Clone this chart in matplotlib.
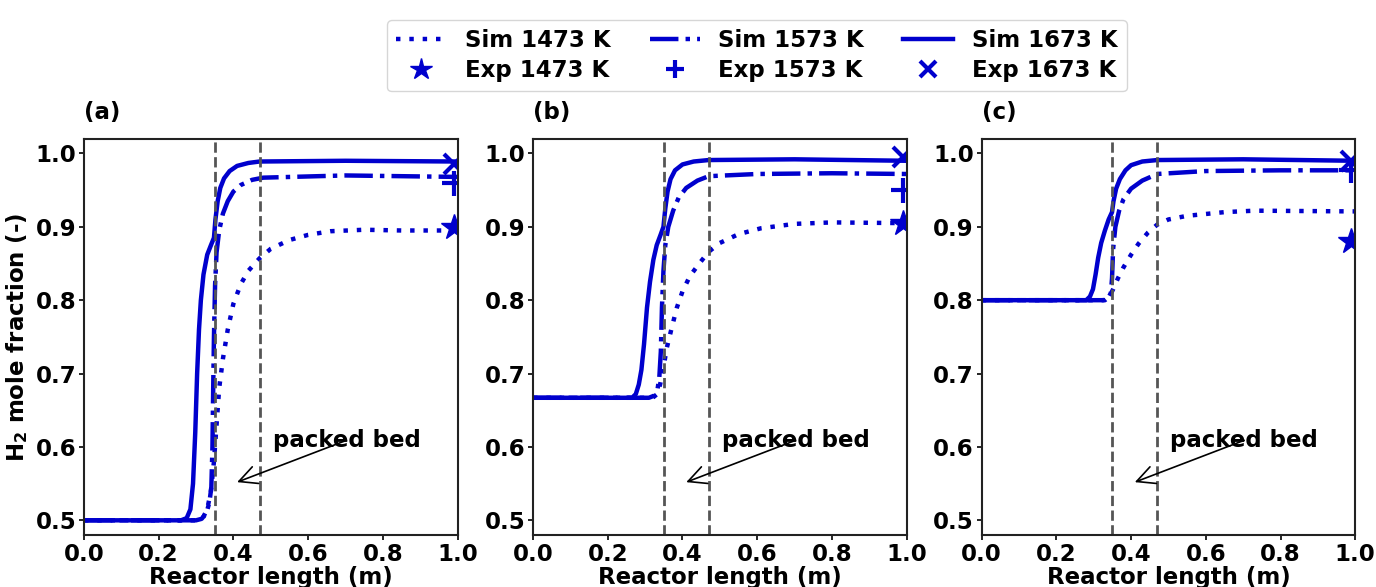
import matplotlib
matplotlib.use("Agg")
import matplotlib.pyplot as plt
from matplotlib.lines import Line2D

plt.rcParams["font.family"] = ["DejaVu Sans"]
plt.rcParams["font.weight"] = "bold"
plt.rcParams["axes.labelweight"] = "bold"

BLUE = "mediumblue"

# --- panel (a): inlet H2 = 0.5 ---
a_x_1473 = [0.0, 0.30, 0.318, 0.33, 0.34, 0.348, 0.355, 0.362, 0.372, 0.385, 0.40, 0.42, 0.44, 0.47, 0.50, 0.55, 0.60, 0.66, 0.75, 0.85, 1.0]
a_y_1473 = [0.5, 0.5, 0.503, 0.515, 0.54, 0.58, 0.63, 0.68, 0.72, 0.76, 0.795, 0.822, 0.84, 0.857, 0.87, 0.882, 0.889, 0.894, 0.896, 0.895, 0.895]
a_x_1573 = [0.0, 0.30, 0.315, 0.328, 0.336, 0.341, 0.344, 0.346, 0.348, 0.351, 0.355, 0.362, 0.372, 0.385, 0.40, 0.42, 0.45, 0.48, 0.7, 1.0]
a_y_1573 = [0.5, 0.5, 0.502, 0.51, 0.525, 0.545, 0.6, 0.68, 0.75, 0.82, 0.865, 0.895, 0.918, 0.935, 0.948, 0.957, 0.964, 0.967, 0.97, 0.968]
a_x_1673 = [0.0, 0.26, 0.275, 0.285, 0.292, 0.298, 0.303, 0.308, 0.313, 0.32, 0.33, 0.34, 0.348, 0.352, 0.358, 0.365, 0.375, 0.39, 0.41, 0.44, 0.47, 0.7, 1.0]
a_y_1673 = [0.5, 0.5, 0.503, 0.515, 0.55, 0.62, 0.70, 0.76, 0.80, 0.835, 0.862, 0.875, 0.885, 0.91, 0.935, 0.953, 0.966, 0.976, 0.983, 0.987, 0.989, 0.99, 0.989]
a_exp = [0.90, 0.96, 0.985]

# --- panel (b): inlet H2 = 0.667 ---
b_x_1473 = [0.0, 0.32, 0.332, 0.34, 0.348, 0.358, 0.37, 0.385, 0.40, 0.42, 0.445, 0.47, 0.50, 0.55, 0.61, 0.70, 0.80, 1.0]
b_y_1473 = [0.667, 0.667, 0.672, 0.685, 0.705, 0.735, 0.76, 0.79, 0.812, 0.833, 0.85, 0.866, 0.878, 0.89, 0.898, 0.904, 0.906, 0.905]
b_x_1573 = [0.0, 0.31, 0.325, 0.333, 0.338, 0.342, 0.345, 0.349, 0.354, 0.362, 0.375, 0.39, 0.41, 0.44, 0.47, 0.6, 0.8, 1.0]
b_y_1573 = [0.667, 0.667, 0.67, 0.678, 0.695, 0.73, 0.79, 0.84, 0.875, 0.90, 0.922, 0.94, 0.953, 0.963, 0.969, 0.972, 0.973, 0.972]
b_x_1673 = [0.0, 0.265, 0.275, 0.283, 0.29, 0.297, 0.305, 0.313, 0.322, 0.331, 0.342, 0.349, 0.354, 0.36, 0.368, 0.38, 0.40, 0.43, 0.47, 0.7, 1.0]
b_y_1673 = [0.667, 0.667, 0.672, 0.685, 0.705, 0.74, 0.79, 0.825, 0.855, 0.875, 0.89, 0.90, 0.925, 0.948, 0.965, 0.977, 0.985, 0.989, 0.991, 0.992, 0.99]
b_exp = [0.905, 0.95, 0.995]

# --- panel (c): inlet H2 = 0.8 ---
c_x_1473 = [0.0, 0.33, 0.342, 0.352, 0.365, 0.38, 0.40, 0.42, 0.445, 0.47, 0.50, 0.55, 0.65, 0.73, 1.0]
c_y_1473 = [0.8, 0.8, 0.805, 0.815, 0.83, 0.845, 0.862, 0.877, 0.892, 0.903, 0.91, 0.915, 0.92, 0.922, 0.921]
c_x_1573 = [0.0, 0.325, 0.338, 0.346, 0.349, 0.352, 0.358, 0.368, 0.38, 0.40, 0.43, 0.47, 0.6, 0.8, 1.0]
c_y_1573 = [0.8, 0.8, 0.802, 0.81, 0.83, 0.87, 0.90, 0.922, 0.938, 0.952, 0.963, 0.972, 0.976, 0.977, 0.977]
c_x_1673 = [0.0, 0.28, 0.29, 0.298, 0.305, 0.312, 0.32, 0.33, 0.34, 0.349, 0.353, 0.36, 0.37, 0.385, 0.40, 0.43, 0.47, 0.7, 1.0]
c_y_1673 = [0.8, 0.8, 0.805, 0.815, 0.835, 0.858, 0.878, 0.895, 0.91, 0.92, 0.935, 0.952, 0.965, 0.977, 0.984, 0.989, 0.991, 0.992, 0.99]
c_exp = [0.88, 0.977, 0.99]

panels = [
    ("(a)", a_x_1473, a_y_1473, a_x_1573, a_y_1573, a_x_1673, a_y_1673, a_exp),
    ("(b)", b_x_1473, b_y_1473, b_x_1573, b_y_1573, b_x_1673, b_y_1673, b_exp),
    ("(c)", c_x_1473, c_y_1473, c_x_1573, c_y_1573, c_x_1673, c_y_1673, c_exp),
]
exp_x = 0.99
bed_start, bed_end = 0.35, 0.47

fig = plt.figure(figsize=(13.76, 5.87), dpi=100)
lefts = [0.061, 0.3874, 0.7134]
FS = 16.5
LW = 3.2
DOT = (0, (1, 2))

for left, (tag, x1, y1, x2, y2, x3, y3, exp) in zip(lefts, panels):
    ax = fig.add_axes([left, 0.0886, 0.2715, 0.675])
    ax.plot(x1, y1, color=BLUE, lw=LW, ls=DOT)
    ax.plot(x2, y2, color=BLUE, lw=LW, ls="-.")
    ax.plot(x3, y3, color=BLUE, lw=LW, ls="-")
    ax.plot(exp_x, exp[0], marker="*", color=BLUE, ms=19, ls="none")
    ax.plot(exp_x, exp[1], marker="+", color=BLUE, ms=18, mew=3, ls="none")
    ax.plot(exp_x, exp[2], marker="x", color=BLUE, ms=15, mew=3, ls="none")
    ax.axvline(bed_start, color="#555555", ls="--", lw=2)
    ax.axvline(bed_end, color="#555555", ls="--", lw=2)
    ax.annotate("packed bed", xy=(0.41, 0.552), xytext=(0.505, 0.609),
                fontsize=FS, fontweight="bold", va="center",
                arrowprops=dict(arrowstyle="->", color="black", lw=1.2,
                                mutation_scale=32, shrinkA=0, shrinkB=0,
                                patchA=None),
                )
    ax.set_xlim(0, 1.0)
    ax.set_ylim(0.48, 1.02)
    ax.set_xticks([0.0, 0.2, 0.4, 0.6, 0.8, 1.0])
    ax.set_yticks([0.5, 0.6, 0.7, 0.8, 0.9, 1.0])
    ax.tick_params(labelsize=FS, width=1.2, pad=2)
    for lab in ax.get_xticklabels() + ax.get_yticklabels():
        lab.set_fontweight("bold")
    for s in ax.spines.values():
        s.set_linewidth(1.5)
        s.set_color("#222222")
    ax.set_xlabel("Reactor length (m)", fontsize=FS, labelpad=0)
    ax.set_title(tag, loc="left", fontsize=FS, fontweight="bold", pad=14)
    if tag == "(a)":
        ax.set_ylabel(r"H$_\mathbf{2}$ mole fraction (-)", fontsize=FS, labelpad=4)

handles = [
    Line2D([], [], color=BLUE, lw=LW, ls=DOT),
    Line2D([], [], color=BLUE, marker="*", ms=16, ls="none"),
    Line2D([], [], color=BLUE, lw=LW, ls="-."),
    Line2D([], [], color=BLUE, marker="+", ms=13, mew=3, ls="none"),
    Line2D([], [], color=BLUE, lw=LW, ls="-"),
    Line2D([], [], color=BLUE, marker="x", ms=11, mew=3, ls="none"),
]
labels = ["Sim 1473 K", "Exp 1473 K", "Sim 1573 K", "Exp 1573 K", "Sim 1673 K", "Exp 1673 K"]
fig.legend(handles, labels, ncol=3, loc="upper center", bbox_to_anchor=(0.55, 0.985),
           prop=dict(size=FS, weight="bold"), columnspacing=1.7, handlelength=2.2,
           frameon=True, edgecolor="#cccccc", labelspacing=0.3)

fig.savefig("out.png", dpi=100)
